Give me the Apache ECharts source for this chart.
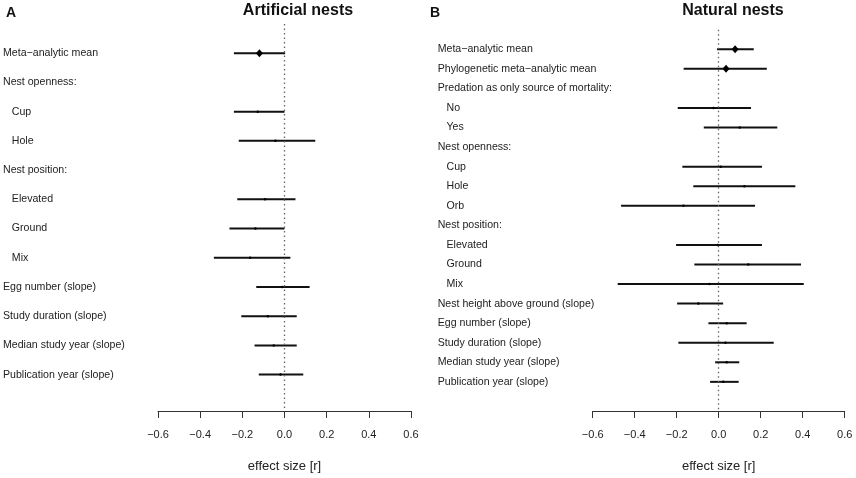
<!DOCTYPE html>
<html>
<head>
<meta charset="utf-8">
<script src="https://cdn.jsdelivr.net/npm/echarts@6/dist/echarts.min.js"></script>
<style>
html,body{margin:0;padding:0;background:#fff}
#main{width:856px;height:478px}
</style>
</head>
<body>
<div id="main"></div>
<script>
// panel A: artificial nests
var artLabels = ['Meta\u2212analytic mean', 'Nest openness:', '   Cup', '   Hole', 'Nest position:',
  '   Elevated', '   Ground', '   Mix', 'Egg number (slope)', 'Study duration (slope)',
  'Median study year (slope)', 'Publication year (slope)'];
var artMean = [-0.119, null, -0.127, -0.043, null, -0.092, -0.138, -0.163, -0.011, -0.079, -0.051, -0.019];
var artLow  = [-0.240, null, -0.240, -0.217, null, -0.224, -0.261, -0.335, -0.134, -0.205, -0.142, -0.122];
var artHigh = [0.003, null, 0.000, 0.146, null, 0.052, 0.000, 0.028, 0.119, 0.058, 0.058, 0.089];

// panel B: natural nests
var natLabels = ['Meta\u2212analytic mean', 'Phylogenetic meta\u2212analytic mean',
  'Predation as only source of mortality:', '   No', '   Yes', 'Nest openness:', '   Cup', '   Hole',
  '   Orb', 'Nest position:', '   Elevated', '   Ground', '   Mix', 'Nest height above ground (slope)',
  'Egg number (slope)', 'Study duration (slope)', 'Median study year (slope)', 'Publication year (slope)'];
var natMean = [0.078, 0.035, null, -0.025, 0.100, null, 0.010, 0.122, -0.168, null, -0.005, 0.141, -0.044, -0.097, 0.038, 0.032, 0.038, 0.022];
var natLow  = [-0.008, -0.167, null, -0.195, -0.071, null, -0.173, -0.121, -0.465, null, -0.203, -0.116, -0.481, -0.198, -0.049, -0.192, -0.017, -0.041];
var natHigh = [0.167, 0.229, null, 0.154, 0.279, null, 0.206, 0.365, 0.173, null, 0.206, 0.392, 0.405, 0.021, 0.133, 0.262, 0.098, 0.095];

var xTicks = [-0.6, 0.6, 0.2]; // min, max, step

var font = 'Liberation Sans, Arial, Helvetica, sans-serif';

function ciData(low, high) {
  var out = [];
  for (var i = 0; i < low.length; i++) {
    if (low[i] !== null) out.push([i, low[i], high[i]]);
  }
  return out;
}
function pointData(mean) {
  var out = [];
  for (var i = 0; i < mean.length; i++) {
    if (mean[i] !== null) out.push([mean[i], i]);
  }
  return out;
}
function renderCI(params, api) {
  var a = api.coord([api.value(1), api.value(0)]);
  var b = api.coord([api.value(2), api.value(0)]);
  return {
    type: 'line',
    shape: {x1: a[0], y1: a[1], x2: b[0], y2: b[1]},
    style: {stroke: '#111', lineWidth: 2}
  };
}
function xAxisFor(idx) {
  return {
    gridIndex: idx, type: 'value', min: xTicks[0], max: xTicks[1], interval: xTicks[2],
    splitLine: {show: false},
    axisLine: {onZero: false, lineStyle: {color: '#333', width: 1}},
    axisTick: {length: 7, lineStyle: {color: '#333'}},
    axisLabel: {
      margin: 18, color: '#222', fontFamily: font, fontSize: 11,
      formatter: function (v) { return v.toFixed(1).replace('-', '\u2212'); }
    },
    name: 'effect size [r]', nameLocation: 'middle', nameGap: 49,
    nameTextStyle: {color: '#222', fontFamily: font, fontSize: 13}
  };
}
function yAxisFor(idx, labels, max) {
  return {
    gridIndex: idx, type: 'value', inverse: true, min: -1, max: max, interval: 1,
    axisLine: {show: false}, axisTick: {show: false}, splitLine: {show: false},
    axisLabel: {
      align: 'left', margin: 155, color: '#222', fontFamily: font, fontSize: 10.6,
      formatter: function (v) { return (Number.isInteger(v) && labels[v]) ? labels[v] : ''; }
    }
  };
}
function seriesFor(idx, labels, mean, low, high) {
  return [{
    type: 'custom', xAxisIndex: idx, yAxisIndex: idx,
    renderItem: renderCI, encode: {x: [1, 2], y: 0},
    data: ciData(low, high), silent: true
  }, {
    type: 'scatter', xAxisIndex: idx, yAxisIndex: idx,
    data: pointData(mean),
    symbol: function (v) { return labels[v[1]].indexOf('mean') >= 0 ? 'diamond' : 'circle'; },
    symbolSize: function (v) { return labels[v[1]].indexOf('mean') >= 0 ? [7, 8] : 2.5; },
    itemStyle: {color: '#000', opacity: 1},
    z: 3, silent: true,
    markLine: {
      silent: true, symbol: 'none', label: {show: false},
      lineStyle: {type: [1.5, 3], color: '#666', width: 1.3},
      data: [{xAxis: 0}]
    }
  }];
}

var chart = echarts.init(document.getElementById('main'));
chart.setOption({
  animation: false,
  backgroundColor: '#fff',
  title: [
    {text: 'A', left: 6, top: 6, padding: 0, textStyle: {fontFamily: font, fontSize: 14, fontWeight: 'bold', color: '#111'}},
    {text: 'B', left: 430, top: 6, padding: 0, textStyle: {fontFamily: font, fontSize: 14, fontWeight: 'bold', color: '#111'}},
    {text: 'Artificial nests', left: 298, textAlign: 'center', top: 3, padding: 0, textStyle: {fontFamily: font, fontSize: 16, fontWeight: 'bold', color: '#111'}},
    {text: 'Natural nests', left: 733, textAlign: 'center', top: 3, padding: 0, textStyle: {fontFamily: font, fontSize: 16, fontWeight: 'bold', color: '#111'}}
  ],
  grid: [
    {left: 158, width: 253, top: 24, height: 387.7},
    {left: 592.7, width: 252, top: 29.7, height: 382.6}
  ],
  xAxis: [xAxisFor(0), xAxisFor(1)],
  yAxis: [yAxisFor(0, artLabels, 12.245), yAxisFor(1, natLabels, 18.49)],
  series: seriesFor(0, artLabels, artMean, artLow, artHigh)
    .concat(seriesFor(1, natLabels, natMean, natLow, natHigh))
});
</script>
</body>
</html>
